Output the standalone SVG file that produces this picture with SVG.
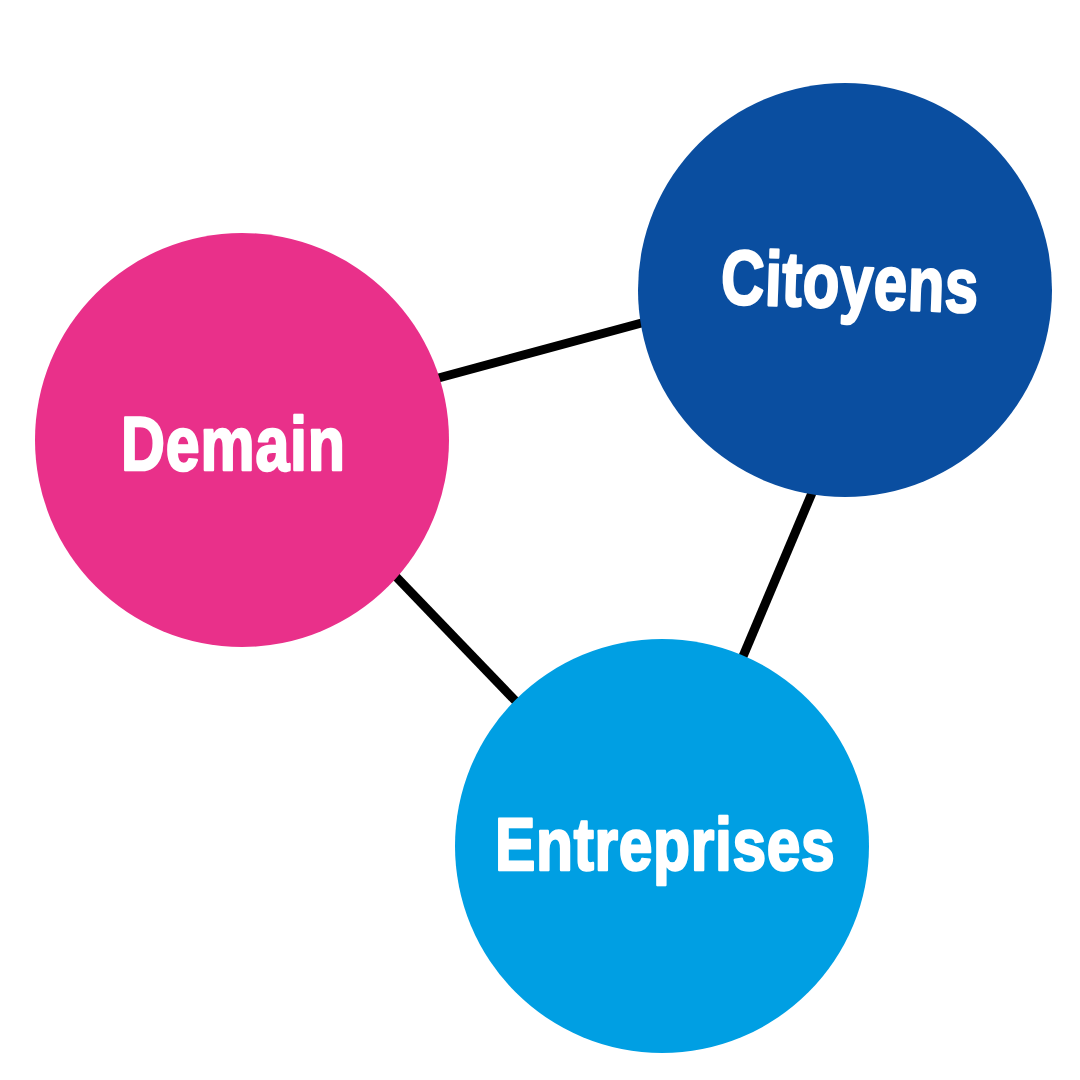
<svg xmlns="http://www.w3.org/2000/svg" width="1080" height="1080" viewBox="0 0 1080 1080">
<style>
.edge{stroke:#000;stroke-width:9;fill:none}
.lbl{font-family:"Liberation Sans",Arial,sans-serif;font-weight:bold;fill:#fff;stroke:#fff;stroke-width:2.5;stroke-linejoin:round;text-anchor:start}
</style>
<rect width="1080" height="1080" fill="#fff"/>
<g id="connectors">
<line class="edge" x1="420" y1="383" x2="660" y2="318"/>
<line class="edge" x1="820" y1="474" x2="733" y2="680"/>
<line class="edge" x1="380" y1="560" x2="530" y2="716"/>
</g>
<g id="demain">
<circle cx="242" cy="440" r="207" fill="#E9308A"/>
<text class="lbl" font-size="76" transform="translate(121 470) scale(0.80 1)" textLength="280">Demain</text>
</g>
<g id="citoyens">
<circle cx="845" cy="290" r="207" fill="#0A4EA0"/>
<g transform="rotate(2 850 285)">
<text class="lbl" font-size="77" transform="translate(721 308) scale(0.78 1)" textLength="330">Citoyens</text>
</g>
</g>
<g id="entreprises">
<circle cx="662" cy="846" r="207" fill="#009FE3"/>
<text class="lbl" font-size="75" transform="translate(495 870) scale(0.807 1)" textLength="421">Entreprises</text>
</g>
</svg>
